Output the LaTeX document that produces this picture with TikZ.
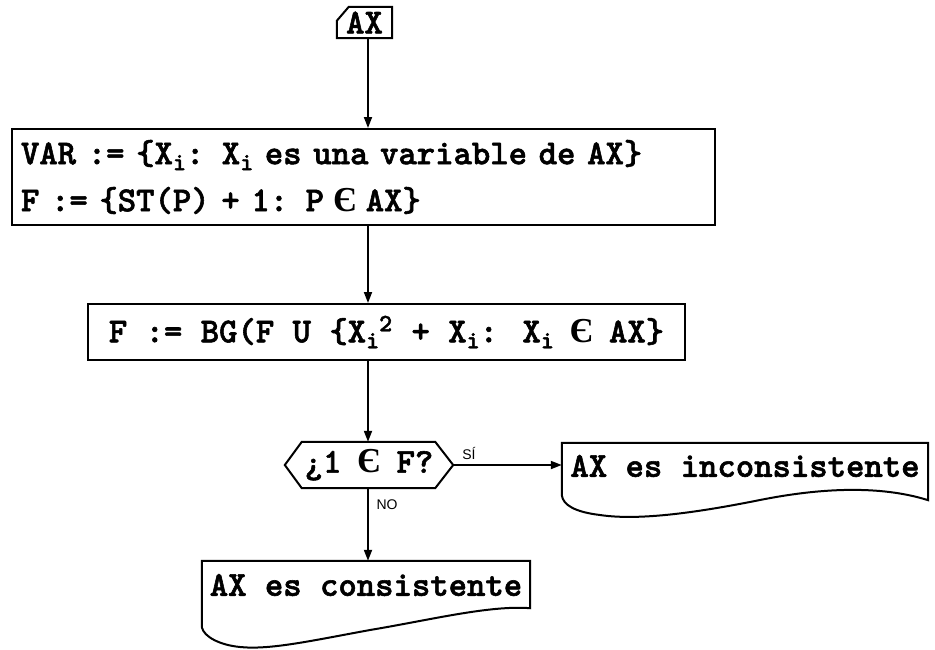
\documentclass[tikz,border=0pt]{standalone}
\usepackage{fontspec}
\newfontfamily\handfont{Liberation Sans}
\newfontfamily\efont{Liberation Serif}
\newfontfamily\ttheavy{lmmonolt10-bold}[Extension=.otf, FakeBold=1.6]
\usetikzlibrary{arrows.meta,calc}
\newcommand\subi{\makebox[13pt][l]{\raisebox{-6pt}{\fontsize{25}{25}\selectfont i}}}
\newcommand\supii{\makebox[14pt][l]{\raisebox{11pt}{\fontsize{25}{25}\selectfont 2}}}
\newcommand\elem{\makebox[18.4pt]{\efont\bfseries Є}}
\begin{document}
\begin{tikzpicture}[x=1pt,y=-1pt,
  ln/.style={line width=2pt},
  arr/.style={line width=1.8pt,-{Triangle[length=11pt,width=8pt]}},
  tt/.style={font=\ttheavy\fontsize{35}{47}\selectfont},
  lbl/.style={font=\handfont\fontsize{14}{14}\selectfont},
  boxs/.style={draw,ln,inner sep=0pt}]
\useasboundingbox[fill=white] (0,0) rectangle (935,649);
\coordinate (col) at (368,0);

% start node
\node[tt, inner sep=0pt, minimum width=55, minimum height=31] (ax) at (364.5,22.5) {AX};
\draw[ln] ($(ax.north west)+(0,14)$) -- ($(ax.north west)+(12,0)$) -- (ax.north east) -- (ax.south east) -- (ax.south west) -- cycle;

% box 1
\node[boxs, tt, inner xsep=9pt, minimum width=703, minimum height=96, text width=685, align=left] (b1) at (363.5,177)
 {VAR := \{X\subi: X\subi{} es una variable de AX\}\\F := \{ST(P) + 1: P \elem{} AX\}};

% box 2
\node[boxs, tt, minimum width=597, minimum height=56] (b2) at (386.5,332)
 {F := BG(F U \{X\subi\supii{} + X\subi: X\subi{} \elem{} AX\}};

% decision
\node[tt, inner sep=0pt, minimum width=168, minimum height=46] (dec) at (369,465) {¿1 \elem{} F?};
\draw[ln] (dec.west) -- ($(dec.north west)+(17,0)$) -- ($(dec.north east)+(-18,0)$) -- (dec.east)
  -- ($(dec.south east)+(-18,0)$) -- ($(dec.south west)+(17,0)$) -- cycle;

% document 1
\node[tt, inner sep=0pt, minimum width=366, minimum height=46] (d1) at (745,466) {AX es inconsistente};
\draw[ln] ($(d1.south west)+(0,6)$) -- (d1.north west) -- (d1.north east) -- ($(d1.south east)+(0,11)$)
  .. controls (880,485) and (820,488) .. (760,500)
  .. controls (700,512) and (640,521) .. (600,515)
  .. controls (575,512) and (563,505) .. ($(d1.south west)+(0,6)$);

% document 2
\node[tt, inner sep=0pt, minimum width=328, minimum height=48] (d2) at (366,585) {AX es consistente};
\draw[ln] ($(d2.south west)+(0,18)$) -- (d2.north west) -- (d2.north east) -- ($(d2.south east)+(0,-1)$)
  .. controls (490,605) and (430,620) .. (370,630)
  .. controls (310,641) and (270,650) .. (240,647)
  .. controls (220,645) and (204,637) .. ($(d2.south west)+(0,18)$);

% connectors
\draw[arr] (ax.south -| col) -- (b1.north -| col);
\draw[arr] (b1.south -| col) -- (b2.north -| col);
\draw[arr] (b2.south -| col) -- (dec.north -| col);
\draw[arr] (dec.south -| col) -- (d2.north -| col);
\draw[arr] (dec.east) -- (d1.west |- dec.east);

% labels
\node[lbl] (si) at (469,453) {SÍ};
\node[lbl] (no) at (387,505) {NO};
\end{tikzpicture}
\end{document}
